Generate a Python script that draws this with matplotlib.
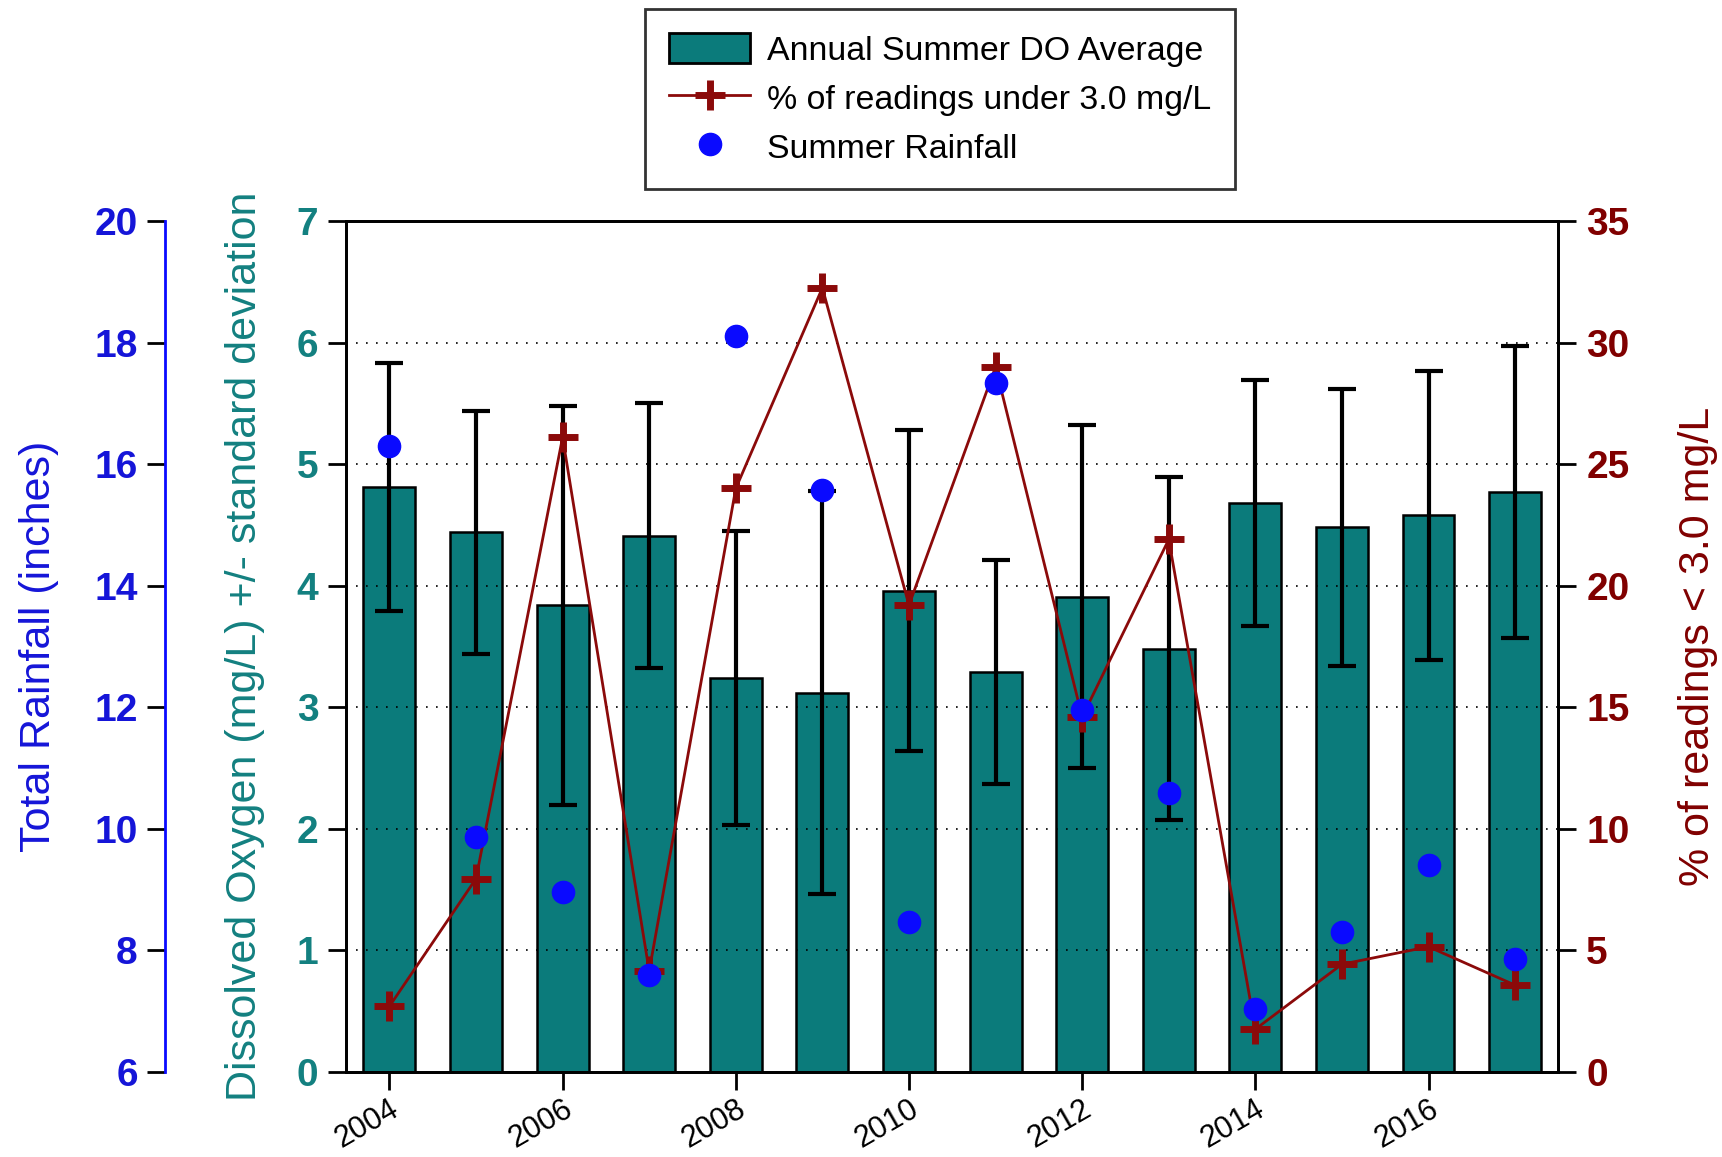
import numpy as np
import matplotlib.pyplot as plt
from matplotlib.patches import Patch
from matplotlib.lines import Line2D

plt.rcParams['font.family'] = ['Liberation Sans', 'DejaVu Sans']

# Data
years = np.arange(2004, 2018)
do_avg = [4.81, 4.44, 3.84, 4.41, 3.24, 3.12, 3.96, 3.29, 3.91, 3.48, 4.68, 4.48, 4.58, 4.77]
do_sd = [1.02, 1.00, 1.64, 1.09, 1.21, 1.66, 1.32, 0.92, 1.41, 1.41, 1.01, 1.14, 1.19, 1.20]
pct_low = [2.7, 7.95, 26.1, 4.15, 24.0, 32.25, 19.2, 29.0, 14.6, 21.9, 1.76, 4.43, 5.15, 3.57]
rainfall = [16.30, 9.87, 8.96, 7.59, 18.10, 15.57, 8.47, 17.34, 11.96, 10.59, 7.03, 8.31, 9.40, 7.86]
xtick_years = list(range(2004, 2017, 2))

teal = '#0b7b7b'
teal_txt = '#138080'
blue_txt = '#1515d8'
blue_dot = '#0a0aff'
dred = '#800000'
dred_line = '#8b0a0a'

fig = plt.figure(figsize=(17.22, 11.57), dpi=100)
ax = fig.add_axes([0.201, 0.0735, 0.704, 0.7355])

# bars + error bars
ax.bar(years, do_avg, width=0.6, color=teal, edgecolor='black', linewidth=1.8, zorder=1)
ax.errorbar(years, do_avg, yerr=do_sd, fmt='none', ecolor='black',
            elinewidth=3, capsize=10, capthick=3, zorder=3)
ax.set_axisbelow(False)
ax.yaxis.grid(True, linestyle=(0, (1, 5)), color='black', linewidth=1.2)
ax.set_xlim(2003.5, 2017.5)
ax.set_ylim(0, 7)
ax.set_xticks(xtick_years)
ax.set_xticklabels([str(y) for y in xtick_years], rotation=30, ha='right',
                   rotation_mode='anchor', fontsize=22)
ax.set_yticks(range(0, 8))
ax.tick_params(axis='both', direction='out', length=13, width=2)
ax.tick_params(axis='y', labelsize=28, labelcolor=teal_txt, pad=7)
ax.tick_params(axis='x', pad=3)
plt.setp(ax.get_yticklabels(), fontweight='bold')
for s in ax.spines.values():
    s.set_linewidth(2)
ax.set_ylabel('Dissolved Oxygen (mg/L) +/- standard deviation', fontsize=31, color=teal_txt)
ax.yaxis.set_label_coords(-0.067, 0.5)

# percent of readings (right)
ax_r = ax.twinx()
ax_r.plot(years, pct_low, color=dred_line, linewidth=2, marker='+', markersize=21,
          markeredgewidth=5, markeredgecolor=dred_line)
ax_r.set_ylim(0, 35)
ax_r.set_yticks(range(0, 36, 5))
ax_r.tick_params(axis='y', direction='out', length=13, width=2, labelsize=28,
                 labelcolor=dred, pad=7)
plt.setp(ax_r.get_yticklabels(), fontweight='bold')
for s in ax_r.spines.values():
    s.set_linewidth(2)
ax_r.set_ylabel('% of readings < 3.0 mg/L', fontsize=31, color=dred, rotation=90)
ax_r.yaxis.set_label_coords(1.0985, 0.5)

# rainfall (outer left)
ax_rain = ax.twinx()
ax_rain.plot(years, rainfall, linestyle='none', marker='o', markersize=16,
             color=blue_dot, markeredgecolor=blue_dot)
ax_rain.set_ylim(6, 20)
ax_rain.set_yticks(range(6, 21, 2))
for k in ['top', 'bottom', 'right']:
    ax_rain.spines[k].set_visible(False)
ax_rain.spines['left'].set_visible(True)
ax_rain.spines['left'].set_position(('axes', -0.149))
ax_rain.spines['left'].set_color(blue_dot)
ax_rain.spines['left'].set_linewidth(2)
ax_rain.yaxis.set_ticks_position('left')
ax_rain.yaxis.set_label_position('left')
ax_rain.tick_params(axis='y', direction='out', length=13, width=2, color='black',
                    labelsize=28, labelcolor=blue_txt, pad=7)
plt.setp(ax_rain.get_yticklabels(), fontweight='bold')
ax_rain.set_ylabel('Total Rainfall (inches)', fontsize=31, color=blue_txt)
ax_rain.yaxis.set_label_coords(-0.237, 0.5)

# legend
handles = [Patch(facecolor=teal, edgecolor='black', linewidth=2),
           Line2D([], [], color=dred_line, linewidth=2, marker='+', markersize=21,
                  markeredgewidth=5),
           Line2D([], [], linestyle='none', marker='o', markersize=16, color=blue_dot)]
labels = ['Annual Summer DO Average', '% of readings under 3.0 mg/L', 'Summer Rainfall']
leg = fig.legend(handles, labels, loc='center', bbox_to_anchor=(0.546, 0.9145),
                 fontsize=24.4, frameon=True, fancybox=False, edgecolor='black',
                 handlelength=2.4, handleheight=1.0, handletextpad=0.5,
                 labelspacing=0.45, borderpad=0.7)
leg.get_frame().set_linewidth(2)

fig.savefig('out.png', dpi=100)
